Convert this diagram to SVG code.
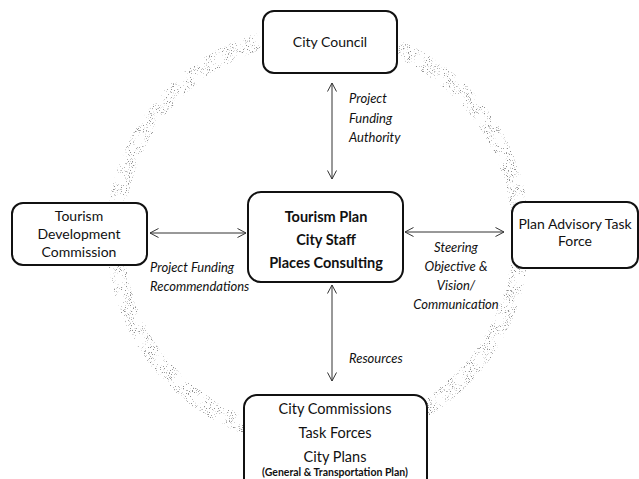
<svg xmlns="http://www.w3.org/2000/svg" width="639" height="479" viewBox="0 0 639 479">
  <style>
    .box { fill: #ffffff; stroke: #111111; stroke-width: 2; }
    .t { font-family: Lato, "Open Sans", "Liberation Sans", sans-serif; fill: #111111; text-anchor: middle; }
    .reg { font-size: 14px; }
    .big { font-size: 14.5px; }
    .bold { font-size: 14.5px; font-weight: bold; }
    .small { font-size: 10.5px; font-weight: bold; }
    .lbl { font-family: Lato, "Open Sans", "Liberation Sans", sans-serif; font-size: 13px; font-style: italic; fill: #111111; }
    .conn { stroke: #333333; stroke-width: 1; fill: none; marker-start: url(#open); marker-end: url(#open); }
  </style>
  <defs>
    <marker id="open" viewBox="0 0 10 10" refX="9.5" refY="5" markerWidth="10" markerHeight="10" markerUnits="userSpaceOnUse" orient="auto-start-reverse">
      <path d="M1,0.5 L9.5,5 L1,9.5" fill="none" stroke="#333333" stroke-width="1"/>
    </marker>
    <filter id="speckle" x="-5%" y="-5%" width="110%" height="110%">
      <feTurbulence type="fractalNoise" baseFrequency="0.95" numOctaves="1" seed="7" result="noise"/>
      <feColorMatrix in="noise" type="matrix" values="0 0 0 0 0  0 0 0 0 0  0 0 0 0 0  9 0 0 0 -5.4" result="mask"/>
      <feComposite in="SourceGraphic" in2="mask" operator="in"/>
    </filter>
  </defs>

  <rect width="639" height="479" fill="#ffffff"/>

  <!-- grainy ring behind the nodes -->
  <circle cx="318" cy="236" r="203" fill="none" stroke="#909090" stroke-width="17" filter="url(#speckle)"/>

  <g id="connectors">
    <line class="conn" x1="332" y1="83" x2="332" y2="179"/>
    <line class="conn" x1="332" y1="285" x2="332" y2="381"/>
    <line class="conn" x1="150" y1="233" x2="246" y2="233"/>
    <line class="conn" x1="405" y1="232" x2="504" y2="232"/>
    <text class="lbl" x="349" y="103">Project</text>
    <text class="lbl" x="349" y="123">Funding</text>
    <text class="lbl" x="349" y="142">Authority</text>
    <text class="lbl" x="150" y="272">Project Funding</text>
    <text class="lbl" x="150" y="291">Recommendations</text>
    <text class="lbl" x="456" y="252" text-anchor="middle">Steering</text>
    <text class="lbl" x="456" y="271" text-anchor="middle">Objective &amp;</text>
    <text class="lbl" x="456" y="290" text-anchor="middle">Vision/</text>
    <text class="lbl" x="456" y="309" text-anchor="middle">Communication</text>
    <text class="lbl" x="349" y="363">Resources</text>
  </g>

  <g id="city-council">
    <rect class="box" x="263" y="11" width="134" height="62" rx="11"/>
    <text class="t reg" x="330" y="47">City Council</text>
  </g>

  <g id="tourism-development-commission">
    <rect class="box" x="12" y="203" width="135" height="62" rx="11"/>
    <text class="t reg" x="79" y="221">Tourism</text>
    <text class="t reg" x="79" y="239">Development</text>
    <text class="t reg" x="79" y="257">Commission</text>
  </g>

  <g id="tourism-plan">
    <rect class="box" x="248" y="192" width="155" height="90" rx="13"/>
    <text class="t bold" x="326" y="222">Tourism Plan</text>
    <text class="t bold" x="326" y="245">City Staff</text>
    <text class="t bold" x="326" y="268">Places Consulting</text>
  </g>

  <g id="plan-advisory-task-force">
    <rect class="box" x="512" y="202" width="126" height="66" rx="11"/>
    <text class="t reg" x="575" y="229">Plan Advisory Task</text>
    <text class="t reg" x="575" y="246">Force</text>
  </g>

  <g id="city-commissions">
    <rect class="box" x="244" y="395" width="183" height="100" rx="13"/>
    <text class="t big" x="335" y="414">City Commissions</text>
    <text class="t big" x="335" y="438">Task Forces</text>
    <text class="t big" x="335" y="462">City Plans</text>
    <text class="t small" x="335" y="476">(General &amp; Transportation Plan)</text>
  </g>
</svg>
